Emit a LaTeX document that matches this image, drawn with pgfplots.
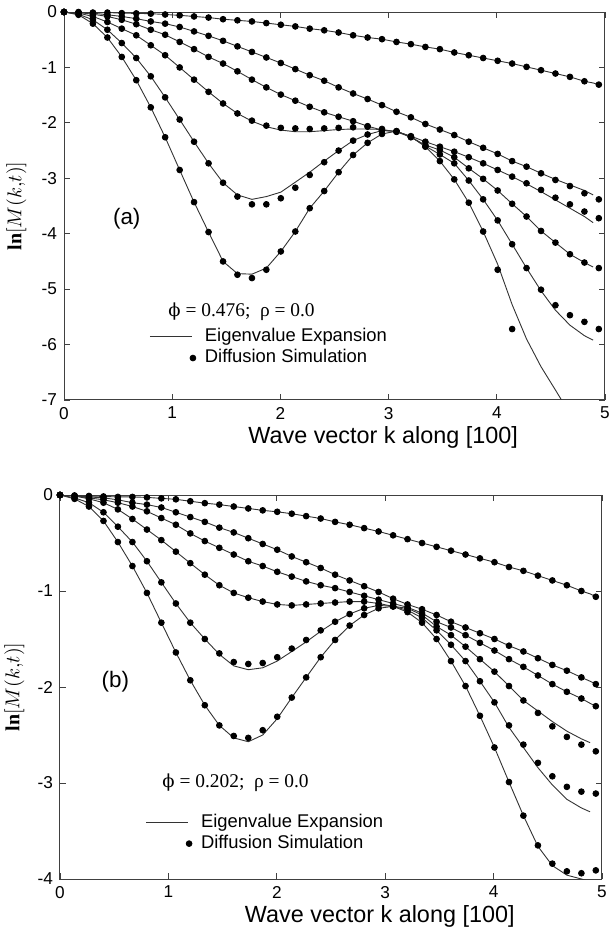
\documentclass[border=0pt]{standalone}
\usepackage{fontspec}
\setmainfont{Liberation Sans}
\newfontfamily\serif{Liberation Serif}
\newfontfamily\phifont{DejaVu Serif}
\usepackage{pgfplots}
\usepackage{pgfplotstable}
\pgfplotsset{compat=1.18}

% panel (a): phi = 0.476, simulation points
\pgfplotstableread{
k      A      B      C      D      E      F
0      0      0      0      0      0      0
0.134  -0.00  -0.01  -0.01  -0.02  -0.04  -0.05
0.267  -0.01  -0.02  -0.04  -0.08  -0.14  -0.21
0.401  -0.01  -0.05  -0.08  -0.18  -0.32  -0.46
0.534  -0.02  -0.08  -0.14  -0.30  -0.56  -0.81
0.668  -0.025 -0.12  -0.22  -0.42  -0.83  -1.23
0.802  -0.03  -0.17  -0.32  -0.60  -1.16  -1.72
0.935  -0.045 -0.21  -0.41  -0.78  -1.54  -2.26
1.069  -0.06  -0.27  -0.54  -1.00  -1.94  -2.85
1.202  -0.08  -0.35  -0.67  -1.22  -2.34  -3.43
1.336  -0.10  -0.43  -0.81  -1.44  -2.73  -3.97
1.470  -0.13  -0.52  -0.93  -1.65  -3.08  -4.50
1.603  -0.15  -0.62  -1.07  -1.83  -3.33  -4.74
1.737  -0.17  -0.72  -1.22  -1.96  -3.47  -4.80
1.870  -0.20  -0.82  -1.36  -2.05  -3.47  -4.65
2.004  -0.23  -0.92  -1.49  -2.09  -3.36  -4.32
2.138  -0.26  -1.03  -1.60  -2.10  -3.17  -3.96
2.271  -0.30  -1.14  -1.71  -2.11  -2.94  -3.54
2.405  -0.33  -1.24  -1.81  -2.10  -2.71  -3.23
2.538  -0.37  -1.36  -1.89  -2.09  -2.50  -2.89
2.672  -0.42  -1.47  -1.97  -2.08  -2.32  -2.58
2.806  -0.46  -1.57  -2.06  -2.07  -2.21  -2.36
2.939  -0.49  -1.68  -2.13  -2.11  -2.14  -2.20
3.073  -0.54  -1.80  -2.16  -2.16  -2.15  -2.15
3.206  -0.58  -1.90  -2.24  -2.26  -2.25  -2.25
3.340  -0.63  -2.02  -2.34  -2.40  -2.42  -2.43
3.474  -0.67  -2.12  -2.43  -2.49  -2.57  -2.69
3.607  -0.73  -2.22  -2.52  -2.62  -2.73  -3.02
3.741  -0.78  -2.34  -2.62  -2.82  -3.04  -3.44
3.874  -0.83  -2.45  -2.73  -3.01  -3.38  -3.96
4.008  -0.88  -2.56  -2.85  -3.22  -3.76  -4.65
4.142  -0.93  -2.69  -2.97  -3.46  -4.19  -5.72
4.275  -0.99  -2.79  -3.09  -3.69  -4.62  nan
4.409  -1.05  -2.91  -3.21  -3.95  -5.01  nan
4.542  -1.11  -3.03  -3.35  -4.16  -5.29  nan
4.676  -1.17  -3.14  -3.47  -4.37  -5.47  nan
4.810  -1.25  -3.27  -3.60  -4.52  -5.59  nan
4.943  -1.31  -3.38  -3.72  -4.62  -5.72  nan
}\pa

% panel (a): eigenvalue expansion curves
\pgfplotstableread{
k      A      B      C      D      E      F
0      0      0      0      0      0      0
0.134  -0.00  -0.01  -0.01  -0.02  -0.04  -0.05
0.267  -0.01  -0.02  -0.04  -0.08  -0.14  -0.21
0.401  -0.01  -0.05  -0.08  -0.18  -0.32  -0.46
0.534  -0.02  -0.08  -0.14  -0.30  -0.56  -0.81
0.668  -0.025 -0.12  -0.22  -0.42  -0.83  -1.23
0.802  -0.03  -0.17  -0.32  -0.60  -1.16  -1.72
0.935  -0.045 -0.21  -0.41  -0.78  -1.54  -2.26
1.069  -0.06  -0.27  -0.54  -1.00  -1.94  -2.85
1.202  -0.08  -0.35  -0.67  -1.22  -2.34  -3.43
1.336  -0.10  -0.43  -0.81  -1.44  -2.73  -3.97
1.470  -0.13  -0.52  -0.93  -1.65  -3.08  -4.50
1.603  -0.15  -0.62  -1.07  -1.83  -3.30  -4.72
1.737  -0.17  -0.72  -1.22  -1.97  -3.38  -4.73
1.870  -0.20  -0.82  -1.36  -2.07  -3.33  -4.62
2.004  -0.23  -0.92  -1.49  -2.13  -3.25  -4.32
2.138  -0.26  -1.03  -1.60  -2.16  -3.07  -3.96
2.271  -0.30  -1.14  -1.71  -2.16  -2.89  -3.54
2.405  -0.33  -1.24  -1.81  -2.14  -2.69  -3.23
2.538  -0.37  -1.36  -1.89  -2.12  -2.50  -2.89
2.672  -0.42  -1.47  -1.97  -2.11  -2.32  -2.58
2.806  -0.46  -1.57  -2.06  -2.11  -2.21  -2.36
2.939  -0.49  -1.68  -2.13  -2.12  -2.14  -2.20
3.073  -0.54  -1.80  -2.16  -2.16  -2.15  -2.15
3.206  -0.58  -1.90  -2.24  -2.26  -2.25  -2.25
3.340  -0.63  -2.02  -2.34  -2.40  -2.42  -2.43
3.474  -0.67  -2.12  -2.43  -2.49  -2.57  -2.69
3.607  -0.73  -2.22  -2.52  -2.62  -2.73  -3.02
3.741  -0.78  -2.34  -2.62  -2.82  -3.04  -3.44
3.874  -0.83  -2.45  -2.73  -3.01  -3.38  -3.96
4.008  -0.88  -2.56  -2.85  -3.22  -3.76  -4.55
4.142  -0.93  -2.69  -2.97  -3.46  -4.19  -5.28
4.275  -0.99  -2.79  -3.10  -3.69  -4.62  -5.90
4.409  -1.05  -2.91  -3.24  -3.95  -5.03  -6.40
4.542  -1.11  -3.02  -3.39  -4.16  -5.38  -6.82
4.676  -1.17  -3.12  -3.54  -4.37  -5.65  -7.25
4.810  -1.25  -3.22  -3.69  -4.52  -5.84  nan
4.890  -1.28  -3.30  -3.80  -4.60  -5.92  nan
4.943  -1.31  nan    nan    nan    nan    nan
}\la

% panel (b): phi = 0.202, simulation points
\pgfplotstableread{
k      A      B      C      D      E      F
0      0      0      0      0      0      0
0.134  -0.005 -0.01  -0.01  -0.01  -0.03  -0.04
0.267  -0.01  -0.02  -0.03  -0.04  -0.08  -0.12
0.401  -0.015 -0.03  -0.05  -0.08  -0.18  -0.27
0.534  -0.02  -0.05  -0.08  -0.15  -0.33  -0.49
0.668  -0.02  -0.08  -0.12  -0.25  -0.49  -0.74
0.802  -0.025 -0.10  -0.17  -0.36  -0.69  -1.02
0.935  -0.035 -0.13  -0.24  -0.47  -0.91  -1.33
1.069  -0.045 -0.18  -0.31  -0.59  -1.13  -1.64
1.202  -0.065 -0.23  -0.40  -0.71  -1.33  -1.93
1.336  -0.085 -0.28  -0.48  -0.83  -1.50  -2.19
1.470  -0.10  -0.34  -0.55  -0.94  -1.65  -2.40
1.603  -0.12  -0.39  -0.62  -1.02  -1.74  -2.51
1.737  -0.14  -0.45  -0.69  -1.07  -1.76  -2.53
1.870  -0.16  -0.51  -0.74  -1.11  -1.75  -2.45
2.004  -0.175 -0.57  -0.80  -1.14  -1.69  -2.31
2.138  -0.195 -0.64  -0.85  -1.15  -1.60  -2.11
2.271  -0.22  -0.70  -0.90  -1.14  -1.51  -1.90
2.405  -0.245 -0.76  -0.94  -1.13  -1.41  -1.69
2.538  -0.28  -0.83  -0.97  -1.12  -1.32  -1.51
2.672  -0.31  -0.89  -1.01  -1.11  -1.24  -1.36
2.806  -0.345 -0.95  -1.05  -1.11  -1.18  -1.25
2.939  -0.38  -1.01  -1.09  -1.13  -1.15  -1.18
3.073  -0.42  -1.08  -1.13  -1.16  -1.16  -1.16
3.206  -0.46  -1.14  -1.17  -1.18  -1.20  -1.22
3.340  -0.50  -1.19  -1.23  -1.25  -1.28  -1.33
3.474  -0.54  -1.25  -1.32  -1.37  -1.41  -1.50
3.607  -0.58  -1.32  -1.38  -1.46  -1.56  -1.73
3.741  -0.62  -1.38  -1.46  -1.58  -1.73  -1.99
3.874  -0.66  -1.44  -1.54  -1.71  -1.94  -2.30
4.008  -0.70  -1.50  -1.62  -1.84  -2.16  -2.63
4.142  -0.75  -1.57  -1.71  -1.99  -2.40  -2.99
4.275  -0.79  -1.63  -1.79  -2.14  -2.60  -3.34
4.409  -0.84  -1.70  -1.88  -2.27  -2.79  -3.65
4.542  -0.89  -1.77  -1.97  -2.41  -2.93  -3.84
4.676  -0.94  -1.83  -2.05  -2.52  -3.04  -3.92
4.810  -1.00  -1.90  -2.12  -2.60  -3.09  -3.94
4.943  -1.06  -1.97  -2.20  -2.67  -3.11  -3.91
}\pb

% panel (b): eigenvalue expansion curves
\pgfplotstableread{
k      A      B      C      D      E      F
0      0      0      0      0      0      0
0.134  -0.005 -0.01  -0.01  -0.01  -0.03  -0.04
0.267  -0.01  -0.02  -0.03  -0.04  -0.08  -0.12
0.401  -0.015 -0.03  -0.05  -0.08  -0.18  -0.27
0.534  -0.02  -0.05  -0.08  -0.15  -0.33  -0.49
0.668  -0.02  -0.08  -0.12  -0.25  -0.49  -0.74
0.802  -0.025 -0.10  -0.17  -0.36  -0.69  -1.02
0.935  -0.035 -0.13  -0.24  -0.47  -0.91  -1.33
1.069  -0.045 -0.18  -0.31  -0.59  -1.13  -1.64
1.202  -0.065 -0.23  -0.40  -0.71  -1.33  -1.93
1.336  -0.085 -0.28  -0.48  -0.83  -1.50  -2.19
1.470  -0.10  -0.34  -0.55  -0.94  -1.66  -2.40
1.603  -0.12  -0.39  -0.62  -1.02  -1.78  -2.53
1.737  -0.14  -0.45  -0.69  -1.07  -1.82  -2.57
1.870  -0.16  -0.51  -0.74  -1.11  -1.80  -2.50
2.004  -0.175 -0.57  -0.80  -1.14  -1.73  -2.33
2.138  -0.195 -0.64  -0.85  -1.15  -1.63  -2.11
2.271  -0.22  -0.70  -0.90  -1.14  -1.53  -1.90
2.405  -0.245 -0.76  -0.94  -1.13  -1.42  -1.69
2.538  -0.28  -0.83  -0.97  -1.12  -1.32  -1.51
2.672  -0.31  -0.89  -1.01  -1.11  -1.24  -1.36
2.806  -0.345 -0.95  -1.05  -1.11  -1.18  -1.25
2.939  -0.38  -1.01  -1.09  -1.13  -1.15  -1.18
3.073  -0.42  -1.08  -1.13  -1.16  -1.16  -1.16
3.206  -0.46  -1.14  -1.17  -1.18  -1.20  -1.22
3.340  -0.50  -1.19  -1.23  -1.25  -1.28  -1.33
3.474  -0.54  -1.25  -1.32  -1.37  -1.41  -1.50
3.607  -0.58  -1.32  -1.38  -1.46  -1.56  -1.73
3.741  -0.62  -1.38  -1.46  -1.58  -1.73  -1.99
3.874  -0.66  -1.44  -1.54  -1.71  -1.94  -2.30
4.008  -0.70  -1.50  -1.62  -1.84  -2.16  -2.63
4.142  -0.75  -1.57  -1.71  -1.99  -2.42  -2.99
4.275  -0.79  -1.63  -1.79  -2.14  -2.63  -3.34
4.409  -0.84  -1.70  -1.88  -2.25  -2.84  -3.66
4.542  -0.89  -1.77  -1.97  -2.36  -3.02  -3.86
4.676  -0.94  -1.83  -2.05  -2.46  -3.17  -3.96
4.810  -1.00  -1.90  -2.12  -2.54  -3.26  -4.00
4.890  -1.03  -1.94  -2.17  -2.58  -3.30  -4.03
4.943  -1.06  -1.97  -2.20  nan    nan    nan
}\lb

\pgfplotsset{
  eig/.style={black!80, line width=0.45pt, mark=none,
    legend image code/.code={\draw[##1] (0pt,0pt) -- (21pt,0pt);
      \path[draw=none, fill=none] (0pt,0pt) rectangle (27pt,0.1pt);}},
  sim/.style={only marks, mark=*, mark size=1.45pt, black,
    legend image code/.code={\draw[##1] plot coordinates {(21.5pt,0pt)};
      \path[draw=none, fill=none] (0pt,0pt) rectangle (27pt,0.1pt);}},
  panel/.style={
    scale only axis, anchor=south west,
    xmin=0, xmax=5, xtick={0,...,5},
    axis line style={black!75, line width=0.5pt},
    major tick length=3pt,
    tick style={black!75, line width=0.4pt},
    tick label style={font=\fontsize{8.6}{9}\selectfont},
    /pgf/number format/assume math mode=true,
    clip mode=individual,
    every axis x label/.style={at={(axis description cs:0.59,0)}, anchor=center, yshift=-18.5pt},
    xlabel={Wave vector k along [100]},
    xlabel style={font=\fontsize{11.7}{13}\selectfont},
    ylabel={{\serif\bfseries ln}$[M(k{,}t)]$},
    ylabel style={font=\fontsize{12.3}{14}\selectfont},
    legend style={draw=none, fill=none, inner sep=0pt, outer sep=0pt,
      font=\fontsize{9.2}{11}\selectfont, row sep=0pt,
      nodes={inner sep=0.5pt, text height=7.3pt, text depth=2.4pt}},
    legend cell align=left,
  },
}

\begin{document}
\begin{tikzpicture}
\useasboundingbox (0,0) rectangle (306.5pt,464pt);

% ---------------- panel (a) ----------------
\begin{axis}[panel, at={(32pt,264pt)}, width=270.5pt, height=194pt,
  ymin=-7, ymax=0, ytick={-7,...,0},
  every axis y label/.style={at={(axis description cs:-0.088,0.5)}, rotate=90, anchor=center},
  legend style={at={(axis cs:0.79,-6.05)}, anchor=west}]
\addplot[eig] table[x=k, y=A]{\la};
\addlegendentry{Eigenvalue Expansion}
\addplot[sim] table[x=k, y=A]{\pa};
\addlegendentry{Diffusion Simulation}
\pgfplotsinvokeforeach{B,C,D,E,F}{
  \addplot[eig, forget plot] table[x=k, y=#1]{\la};
  \addplot[sim, forget plot] table[x=k, y=#1]{\pa};
}
\node[font=\fontsize{11.2}{13}\selectfont] at (axis cs:0.58,-3.73) {(a)};
\node[anchor=west, font=\serif\fontsize{9.7}{12}\selectfont] at (axis cs:0.90,-5.41) {{\phifont\fontsize{9}{12}\selectfont ϕ} = 0.476;\ \ ρ = 0.0};
\end{axis}

% ---------------- panel (b) ----------------
\begin{axis}[panel, at={(30pt,24.5pt)}, width=271pt, height=192pt,
  ymin=-4, ymax=0, ytick={-4,...,0},
  every axis y label/.style={at={(axis description cs:-0.084,0.5)}, rotate=90, anchor=center},
  legend style={at={(axis cs:0.79,-3.52)}, anchor=west}]
\addplot[eig] table[x=k, y=A]{\lb};
\addlegendentry{Eigenvalue Expansion}
\addplot[sim] table[x=k, y=A]{\pb};
\addlegendentry{Diffusion Simulation}
\pgfplotsinvokeforeach{B,C,D,E,F}{
  \addplot[eig, forget plot] table[x=k, y=#1]{\lb};
  \addplot[sim, forget plot] table[x=k, y=#1]{\pb};
}
\node[font=\fontsize{11.2}{13}\selectfont] at (axis cs:0.51,-1.94) {(b)};
\node[anchor=west, font=\serif\fontsize{9.7}{12}\selectfont] at (axis cs:0.88,-3.00) {{\phifont\fontsize{9}{12}\selectfont ϕ} = 0.202;\ \ ρ = 0.0};
\end{axis}
\end{tikzpicture}
\end{document}
